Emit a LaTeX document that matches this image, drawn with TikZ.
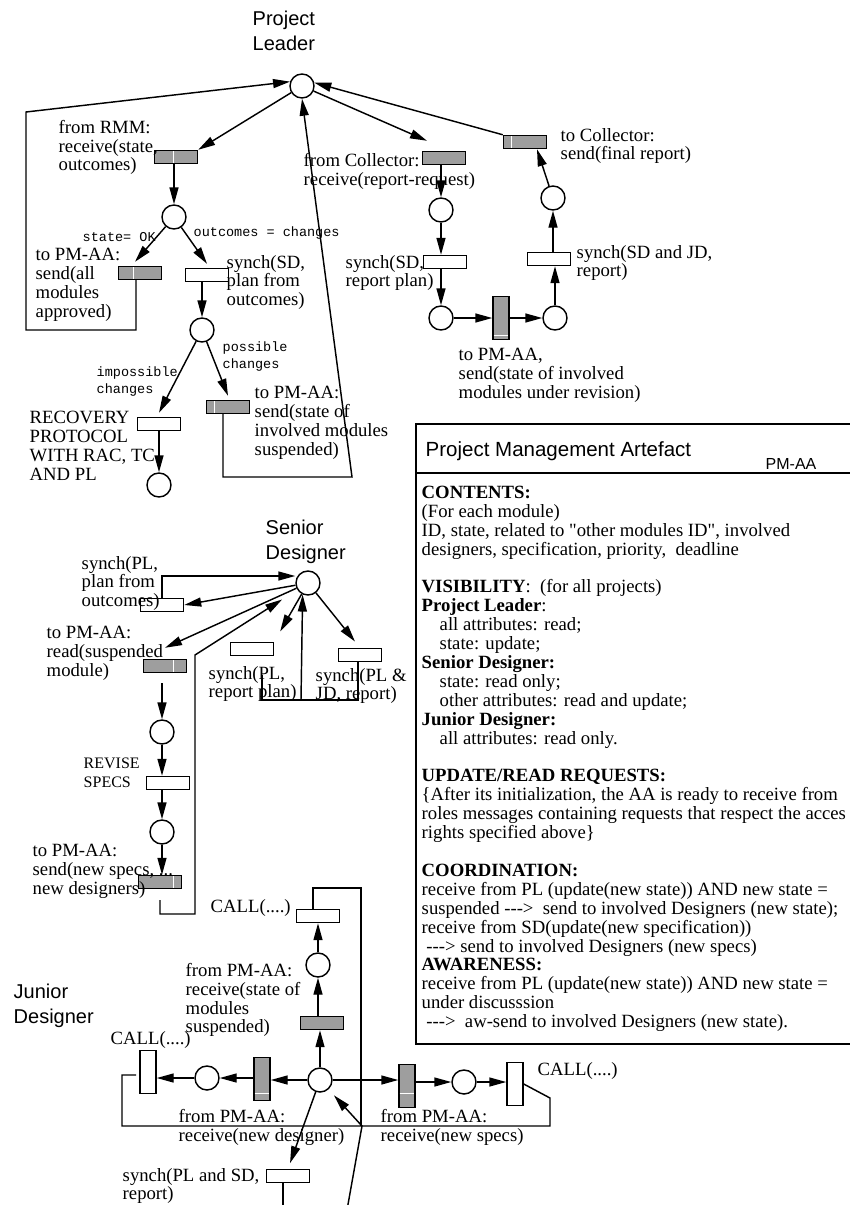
\documentclass[tikz,border=0pt]{standalone}
\usepackage{fontspec}
\setmainfont{Liberation Serif}
\setsansfont{Liberation Sans}
\setmonofont{Liberation Mono}
\usetikzlibrary{arrows.meta,calc}
\newcommand\sdq{\XeTeXglyph\XeTeXcharglyph"22\relax}
\begin{document}
\begin{tikzpicture}[x=1pt,y=-1pt,line width=1.45pt,
  place/.style={circle,draw,minimum size=24pt,inner sep=0pt},
  tr/.style={rectangle,draw,minimum width=43pt,minimum height=13pt,inner sep=0pt},
  gtr/.style={tr,fill=black!38},
  vtr/.style={rectangle,draw,minimum width=16pt,minimum height=43pt,inner sep=0pt},
  gvtr/.style={vtr,fill=black!38},
  arr/.style={-{Triangle[length=17pt,width=9pt]}},
  stripe/.style={draw=white,line width=1pt,shorten <=1.4pt,shorten >=1.4pt},
  txt/.style={anchor=north west,inner sep=0pt,align=left,font=\fontsize{18.7}{18.9}\selectfont,execute at begin node=\strut,yshift=7.7pt},
  stxt/.style={anchor=north west,inner sep=0pt,align=left,font=\sffamily\fontsize{20}{25.5}\selectfont,execute at begin node=\strut,yshift=7.8pt},
  mtxt/.style={anchor=north west,inner sep=0pt,align=left,font=\ttfamily\fontsize{13.5}{17}\selectfont,execute at begin node=\strut,yshift=7.9pt}
]
\useasboundingbox (0,0) rectangle (850,1205);

% ---------------- Project Leader ----------------
\node[stxt] (plT) at (252,18) {Project\\Leader};
\node[place] (p0) at (302,86) {};
\node[gtr] (tRMM) at (176,157) {};
\node[place] (pA) at (174,217) {};
\node[gtr] (tOK) at (140,273) {};
\node[tr] (tPlan) at (207,275) {};
\node[place] (pB) at (202,330) {};
\node[tr] (tRec) at (159,424) {};
\node[gtr] (tSusp) at (228,407) {};
\node[place] (pC) at (159,485) {};
\node[gtr] (tColl) at (444,158) {};
\node[place] (pD) at (441,210) {};
\node[tr] (tRP) at (445,262) {};
\node[place] (pE) at (441,318) {};
\node[gvtr] (tRev) at (501,318) {};
\node[place] (pF) at (555,318) {};
\node[tr] (tSJ) at (549,259) {};
\node[place] (pG) at (553,198) {};
\node[gtr] (tFin) at (525,142) {};

\draw[stripe] ([xshift=-3pt]tRMM.north) -- ([xshift=-3pt]tRMM.south);
\draw[stripe] ([xshift=-7pt]tOK.north) -- ([xshift=-7pt]tOK.south);
\draw[stripe] ([xshift=-14pt]tSusp.north) -- ([xshift=-14pt]tSusp.south);
\draw[stripe] ([xshift=-14pt]tFin.north) -- ([xshift=-14pt]tFin.south);
\draw[stripe] ([yshift=-17pt]tRev.west) -- ([yshift=-17pt]tRev.east);

\node[txt] (l1) at (58,127) {from RMM:\\receive(state,\\outcomes)};
\node[txt] (l2) at (35,255) {to PM-AA:\\send(all\\modules\\approved)};
\node[txt] (l3) at (226,262) {synch(SD,\\plan from\\outcomes)};
\node[txt] (l4) at (29,418) {RECOVERY\\PROTOCOL\\WITH RAC, TC\\AND PL};
\node[txt] (l5) at (254,393) {to PM-AA:\\send(state of\\involved modules\\suspended)};
\node[txt] (l6) at (303,160) {from Collector:\\receive(report-request)};
\node[txt] (l7) at (345,262) {synch(SD,\\report plan)};
\node[txt] (l8) at (458,355) {to PM-AA,\\send(state of involved\\modules under revision)};
\node[txt] (l9) at (576,252) {synch(SD and JD,\\report)};
\node[txt] (l10) at (560,135) {to Collector:\\send(final report)};
\node[mtxt] (m1) at (82,237) {state= OK};
\node[mtxt] (m2) at (193,232) {outcomes = changes};
\node[mtxt] (m3) at (222,349) {possible\\changes};
\node[mtxt] (m4) at (96,374) {impossible\\changes};

\draw[arr] (p0) -- (tRMM.north east);
\draw[arr] (tRMM.south -| pA) -- (pA);
\draw[arr] (pA) -- ([xshift=-5pt,yshift=4pt]tOK.north);
\draw[arr] (pA) -- ([yshift=4pt]tPlan.north);
\draw[arr] (tPlan.south -| pB) -- (pB);
\draw[arr] (pB) -- ([yshift=4pt]tRec.north);
\draw[arr] (pB) -- ([yshift=4pt]tSusp.north);
\draw[arr] (tRec.south -| pC) -- (pC);
\draw[arr] (tOK.south) ++(-4,0) |- (26,330) -- (26,112) -- (p0.160);
\draw[arr] (tSusp.south) ++(-5,0) |- (352,477) -- (p0.south);
\draw[arr] (p0) -- ([xshift=-17pt,yshift=10pt]tColl.north);
\draw[arr] (tColl.south -| pD) -- (pD);
\draw[arr] (pD) -- (pD |- tRP.north);
\draw[arr] (tRP.south -| pE) -- (pE);
\draw[arr] (pE) -- (pE -| tRev.west);
\draw[arr] (tRev.east |- pF) -- (pF);
\draw[arr] (pF) -- (pF |- tSJ.south);
\draw[arr] (tSJ.north -| pG) -- (pG);
\draw[arr] (pG) -- ([xshift=12pt]tFin.south);
\draw[arr] (tFin.north west) -- (p0.15);

% ---------------- Senior Designer ----------------
\node[stxt] (sdT) at (265,527) {Senior\\Designer};
\node[place] (pS) at (308,583) {};
\node[tr] (tS1) at (162,605) {};
\node[gtr] (tS2) at (165,666) {};
\node[tr] (tS3) at (252,649) {};
\node[tr] (tS4) at (360,655) {};
\node[place] (pS2) at (162,732) {};
\node[tr] (tS5) at (168,783) {};
\node[place] (pS3) at (162,832) {};
\node[gtr] (tS6) at (160,882) {};
\draw[stripe] ([xshift=8pt]tS2.north) -- ([xshift=8pt]tS2.south);
\draw[stripe] ([xshift=13pt]tS6.north) -- ([xshift=13pt]tS6.south);

\node[txt] (s1) at (81,563) {synch(PL,\\plan from\\outcomes)};
\node[txt] (s2) at (46,633) {to PM-AA:\\read(suspended\\module)};
\node[txt] (s3) at (208,673) {synch(PL,\\report plan)};
\node[txt] (s4) at (315,675) {synch(PL \&\\JD, report)};
\node[txt,font=\fontsize{16}{18.9}\selectfont] (s5) at (83,765) {REVISE\\SPECS};
\node[txt] (s6) at (32,851) {to PM-AA:\\send(new specs, ...\\new designers)};

\draw[arr] (tS1.north) |- ([yshift=7pt]pS.west);
\draw[arr] (pS) -- (tS1.east);
\draw[arr] (pS) -- ([yshift=11pt]tS2.north);
\draw[arr,shorten >=18pt] (tS6.south) ++(0,11) |- (195,914) -- (195,655) -- (pS);
\draw[arr,shorten >=12pt] (pS) -- (tS3.north east);
\draw[arr,shorten >=8pt] (pS) -- (tS4.north);
\draw (tS4.south) ++(-2,0) |- (262,700) -- (262,675);
\draw[arr] (301,700) -- (pS.-115);
\draw[arr] (tS2.south -| pS2) ++(0,10) -- (pS2);
\draw[arr] (pS2) -- (pS2 |- tS5.north);
\draw[arr] (tS5.south -| pS3) -- (pS3);
\draw[arr] (pS3) -- (pS3 |- tS6.north);

% ---------------- Junior Designer ----------------
\node[stxt] (jdT) at (13,991) {Junior\\Designer};
\node[place] (pJ) at (320,1080) {};
\node[gtr] (tJ1) at (322,1023) {};
\node[place] (pJ2) at (318,965) {};
\node[tr] (tJ2) at (318,916) {};
\node[gvtr] (tJ3) at (262,1079) {};
\node[place] (pJ3) at (207,1078) {};
\node[vtr] (tJ4) at (148,1072) {};
\node[tr] (tJ5) at (288,1176) {};
\node[gvtr] (tJ6) at (407,1086) {};
\node[place] (pJ4) at (464,1082) {};
\node[vtr] (tJ7) at (515,1084) {};
\draw[stripe] ([yshift=-14pt]tJ3.west) -- ([yshift=-14pt]tJ3.east);
\draw[stripe] ([yshift=-7pt]tJ6.west) -- ([yshift=-7pt]tJ6.east);

\node[txt] (j1) at (210,906) {CALL(....)};
\node[txt] (j2) at (185,970) {from PM-AA:\\receive(state of\\modules\\suspended)};
\node[txt] (j3) at (110,1038) {CALL(....)};
\node[txt] (j4) at (178,1116) {from PM-AA:\\receive(new designer)};
\node[txt] (j5) at (122,1175) {synch(PL and SD,\\report)};
\node[txt] (j6) at (537,1069) {CALL(....)};
\node[txt] (j7) at (380,1116) {from PM-AA:\\receive(new specs)};

\coordinate (bot) at (347,1210);
\draw[arr] (pJ) -- (pJ |- tJ1.south);
\draw[arr] (tJ1.north -| pJ2) -- (pJ2);
\draw[arr] (pJ2) -- (pJ2 |- tJ2.south);
\draw (tJ2.north) ++(-5,0) |- (361,888) -- (361,1126);
\draw (tJ7.east) -- (550,1098) -- (550,1126) -| (122,1075) -- ++(14,0);
\draw[arr,shorten >=8pt] (bot) -- (362,1126) -- (pJ);
\draw[arr,shorten >=6pt] (pJ) -- (tJ5.north);
\draw (tJ5.south) ++(-5,0) -- ++(0,30);
\draw[arr] (pJ.west) -- (pJ.west -| tJ3.east);
\draw[arr] (tJ3.west |- pJ3) -- (pJ3);
\draw[arr] (pJ3.west) -- (pJ3.west -| tJ4.east);
\draw[arr] (pJ.east) -- (pJ.east -| tJ6.west);
\draw[arr] (tJ6.east |- pJ4) -- (pJ4);
\draw[arr] (pJ4.east) -- (pJ4.east -| tJ7.west);

% ---------------- PM-AA box ----------------
\node[draw,line width=1.5pt,anchor=north west,minimum width=445pt,minimum height=620pt,inner sep=0pt] (pmaa) at (415,423) {};
\draw[line width=1.5pt] (pmaa.north west) ++(0,50) -- ++(445,0);
\node[stxt,font=\sffamily\fontsize{20.5}{25.5}\selectfont,yshift=3pt] (pmT) at (425,449) {Project Management Artefact};
\node[stxt,font=\sffamily\fontsize{16}{19}\selectfont,yshift=-0.5pt] (pmS) at (765,463) {PM-AA};
\node[txt] (pmB) at (421,493) {\textbf{CONTENTS:}\\
(For each module)\\
ID, state, related to \sdq other modules ID\sdq, involved\\
designers, specification, priority,\ \ deadline\\[18.9pt]
\textbf{VISIBILITY}:\ \ (for all projects)\\
\textbf{Project Leader}:\\
\hspace*{18pt}all attributes: read;\\
\hspace*{18pt}state: update;\\
\textbf{Senior Designer:}\\
\hspace*{18pt}state: read only;\\
\hspace*{18pt}other attributes: read and update;\\
\textbf{Junior Designer:}\\
\hspace*{18pt}all attributes: read only.\\[18.9pt]
\textbf{UPDATE/READ REQUESTS:}\\
\{After its initialization, the AA is ready to receive from\\
roles messages containing requests that respect the acces\\
rights specified above\}\\[18.9pt]
\textbf{COORDINATION:}\\
receive from PL (update(new state)) AND new state =\\
suspended -{}-{}->\ \ send to involved Designers (new state);\\
receive from SD(update(new specification))\\
\ -{}-{}-> send to involved Designers (new specs)\\
\textbf{AWARENESS:}\\
receive from PL (update(new state)) AND new state =\\
under discusssion\\
\ -{}-{}->\ \ aw-send to involved Designers (new state).};
\end{tikzpicture}
\end{document}
